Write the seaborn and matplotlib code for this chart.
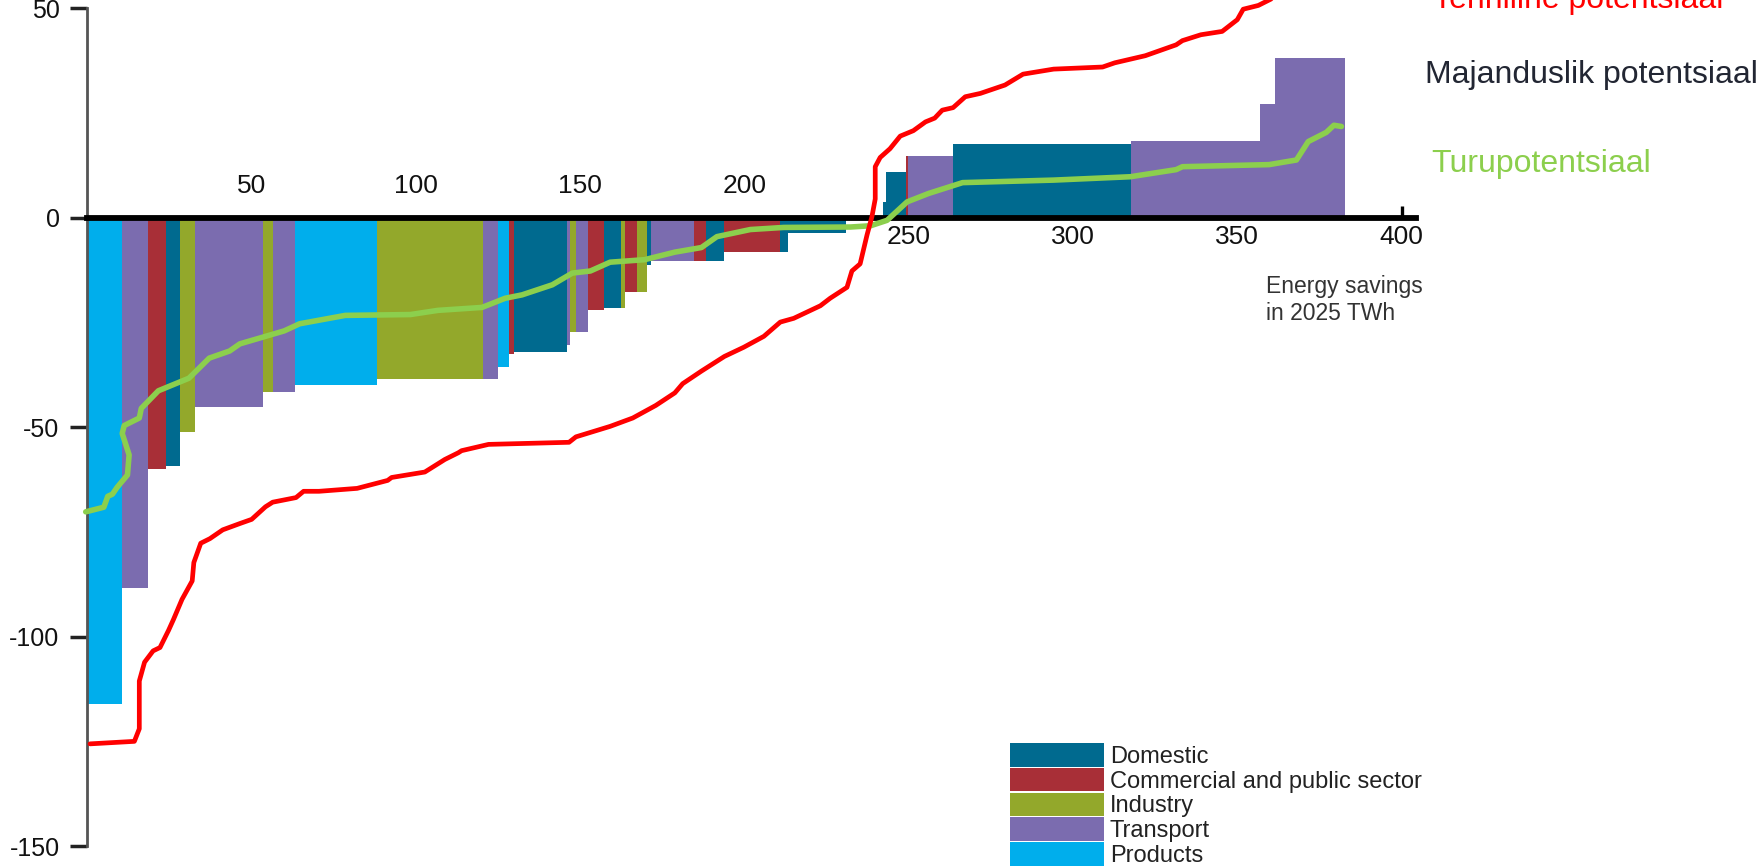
import numpy as np
import matplotlib.pyplot as plt
import seaborn as sns
from matplotlib.patches import Patch

# Measures in order along the cost curve: sector, energy saved (bar width, TWh), cost (bar height)
sector = ['Products', 'Transport', 'Commercial and public sector', 'Domestic', 'Industry',
          'Transport', 'Industry', 'Transport', 'Products', 'Industry',
          'Transport', 'Products', 'Commercial and public sector', 'Domestic', 'Transport',
          'Industry', 'Transport', 'Commercial and public sector', 'Domestic', 'Industry',
          'Commercial and public sector', 'Industry', 'Domestic', 'Transport', 'Commercial and public sector',
          'Domestic', 'Commercial and public sector', 'Domestic', 'Domestic', 'Domestic',
          'Domestic', 'Domestic', 'Commercial and public sector', 'Transport', 'Domestic',
          'Transport', 'Transport', 'Transport']
savings = [10.6, 7.9, 5.3, 4.3, 4.8,
           20.5, 3.1, 6.7, 24.8, 32.4,
           4.7, 3.1, 1.5, 16.2, 0.9,
           1.9, 3.6, 4.9, 5.3, 1.0,
           3.8, 3.1, 1.1, 13.0, 3.8,
           5.4, 17.2, 2.3, 17.7, 11.3,
           0.9, 6.2, 0.4, 13.8, 54.0,
           39.4, 4.7, 21.2]
cost = [-116.0, -88.3, -59.9, -59.2, -51.1,
        -45.2, -41.6, -41.6, -40.0, -38.5,
        -38.5, -35.6, -32.5, -32.0, -30.4,
        -27.3, -27.3, -22.1, -21.6, -21.6,
        -17.8, -17.8, -11.2, -10.3, -10.3,
        -10.3, -8.1, -8.1, -3.7, 0.0,
        3.8, 10.9, 14.8, 14.8, 17.6,
        18.4, 27.1, 38.1]

# Turupotentsiaal (green line)
market_x = [-0.5, 5.0, 6.2, 7.6, 9.1, 12.2, 12.7, 10.6, 11.2, 15.8, 16.4, 21.6, 30.9, 37.1,
            43.3, 46.4, 59.9, 64.6, 78.5, 98.3, 106.7, 120.1, 127.2, 132.3, 141.5, 147.6,
            153.1, 159.1, 169.6, 178.8, 186.9, 191.6, 201.8, 212.0, 232.3, 238.4, 243.4,
            249.5, 256.0, 266.4, 294.1, 317.4, 331.4, 333.3, 359.7, 368.0, 371.6, 377.1,
            379.4, 381.7]
market_y = [-70.2, -69.1, -66.5, -66.0, -64.3, -61.4, -56.6, -51.5, -49.6, -47.8, -45.5, -41.3,
            -38.3, -33.5, -31.8, -30.1, -27.0, -25.3, -23.3, -23.1, -22.1, -21.4, -19.2, -18.4,
            -16.0, -13.2, -12.7, -10.6, -10.0, -8.2, -7.1, -4.5, -2.8, -2.3, -2.2, -1.9, -0.6,
            3.8, 5.8, 8.4, 9.0, 9.8, 11.5, 12.2, 12.7, 13.8, 18.2, 20.4, 22.1, 21.8]

# Tehniline potentsiaal (red line)
tech_x = [0.8, 14.3, 15.8, 15.8, 17.4, 20.0, 22.1, 24.7, 26.2, 28.8, 31.9, 32.4, 34.5, 37.3,
          41.2, 46.4, 50.0, 54.2, 56.4, 63.5, 65.8, 70.5, 82.1, 91.4, 92.6, 102.7, 108.8,
          112.9, 113.9, 122.1, 146.6, 148.7, 159.1, 166.0, 173.0, 178.8, 181.2, 186.9, 193.9,
          199.8, 205.9, 210.9, 215.0, 223.1, 226.1, 231.2, 232.7, 235.2, 237.3, 238.8, 239.8,
          239.8, 241.3, 244.3, 247.4, 251.4, 255.1, 257.9, 260.2, 263.5, 267.2, 271.8, 279.3,
          284.8, 294.1, 309.0, 312.7, 322.0, 331.4, 333.3, 338.9, 345.4, 350.0, 351.8, 356.4,
          369.3]
tech_y = [-125.6, -125.0, -122.0, -110.6, -106.1, -103.4, -102.6, -98.5, -95.9, -91.1, -86.7,
          -82.3, -77.7, -76.6, -74.5, -73.0, -72.0, -69.0, -67.9, -66.8, -65.3, -65.3, -64.6,
          -62.7, -62.0, -60.7, -57.7, -56.1, -55.6, -54.1, -53.6, -52.3, -49.8, -47.8, -44.8,
          -41.8, -39.6, -36.6, -33.1, -30.9, -28.3, -24.9, -24.0, -21.0, -19.2, -16.6, -12.7,
          -11.0, -4.1, 0.3, 4.5, 12.2, 14.4, 16.5, 19.5, 20.8, 22.9, 23.8, 25.7, 26.3, 28.9,
          29.7, 31.7, 34.3, 35.5, 36.0, 37.0, 38.7, 41.3, 42.3, 43.7, 44.5, 47.3, 49.8, 50.7,
          55.8]

legend_order = ['Domestic', 'Commercial and public sector', 'Industry', 'Transport', 'Products']
colors = {'Domestic': '#006A8F', 'Commercial and public sector': '#A82F37',
          'Industry': '#93A82B', 'Transport': '#7B6CAF', 'Products': '#00AEEC'}

sns.set_style('white')
plt.rcParams['font.family'] = ['Liberation Sans', 'DejaVu Sans']
plt.rcParams['axes.unicode_minus'] = False

fig = plt.figure(figsize=(17.6, 8.67), dpi=100)
ax = fig.add_axes([0, 0, 1, 1])

lefts = np.concatenate([[0], np.cumsum(savings)[:-1]])
ax.bar(lefts, cost, width=savings, align='edge', linewidth=0,
       color=[colors[s] for s in sector], zorder=1)

sns.lineplot(x=market_x, y=market_y, sort=False, estimator=None, color='#8CCF4D',
             lw=4.0, ax=ax, zorder=4)
sns.lineplot(x=tech_x, y=tech_y, sort=False, estimator=None, color='#FF0000',
             lw=3.4, ax=ax, zorder=5)

ax.set_xlim(-26.6, 509.1)
ax.set_ylim(-155, 52)

# axes: thick zero line, thin left spine at x = 0
for s in ['top', 'right']:
    ax.spines[s].set_visible(False)
ax.spines['bottom'].set_position(('data', 0))
ax.spines['bottom'].set_bounds(0, 404.3)
ax.spines['bottom'].set_linewidth(4.2)
ax.spines['bottom'].set_color('black')
ax.spines['left'].set_position(('data', 0))
ax.spines['left'].set_bounds(-150, 50)
ax.spines['left'].set_linewidth(2)
ax.spines['left'].set_color('#555555')

ax.set_yticks([50, 0, -50, -100, -150])
ax.set_yticklabels(['50', '0', '-50', '-100', '-150'])
ax.tick_params(axis='y', direction='out', length=12, width=2.5, color='#222222',
               pad=8, labelsize=18, left=True, labelcolor='#111111')
ax.set_xticks([250, 300, 350, 400])
ax.tick_params(axis='x', direction='in', length=9, width=2.4, color='black',
               pad=5, labelsize=19, bottom=True, labelcolor='#111111')

# 50-200 are labelled above the zero line
zero_frac = (0 - ax.get_ylim()[0]) / (ax.get_ylim()[1] - ax.get_ylim()[0])
sec = ax.secondary_xaxis(zero_frac)
sec.set_xticks([50, 100, 150, 200])
sec.spines['top'].set_visible(False)
sec.spines['bottom'].set_visible(False)
sec.tick_params(direction='in', length=10, width=2.4, color='black', pad=14, labelsize=19,
                labelcolor='#111111')

ax.set_xlabel('')
ax.set_ylabel('')

W, H = 1760, 867
fig.text(1266 / W, 1 - 293 / H, 'Energy savings', fontsize=16.5, color='#333333', va='baseline')
fig.text(1266 / W, 1 - 320 / H, 'in 2025 TWh', fontsize=16.5, color='#333333', va='baseline')

fig.text(1433 / W, 1 - 8 / H, 'Tehniline potentsiaal', fontsize=23, color='#FF0000',
         va='baseline')
fig.text(1425 / W, 1 - 83 / H, 'Majanduslik potentsiaal', fontsize=23, color='#222633',
         va='baseline')
fig.text(1431 / W, 1 - 172 / H, 'Turupotentsiaal', fontsize=23, color='#8CCF4D',
         va='baseline')

handles = [Patch(facecolor=colors[s], linewidth=0, label=s) for s in legend_order]
fs_px = 17 * 100 / 72
fig.legend(handles=handles, loc='lower left', bbox_to_anchor=(1010 / W, 0),
           frameon=False, borderpad=0, borderaxespad=0, labelspacing=0,
           handlelength=94 / fs_px, handleheight=27.4 / fs_px, handletextpad=0.25,
           prop={'size': 17}, labelcolor='#222222')

fig.savefig('out.png', dpi=100)
